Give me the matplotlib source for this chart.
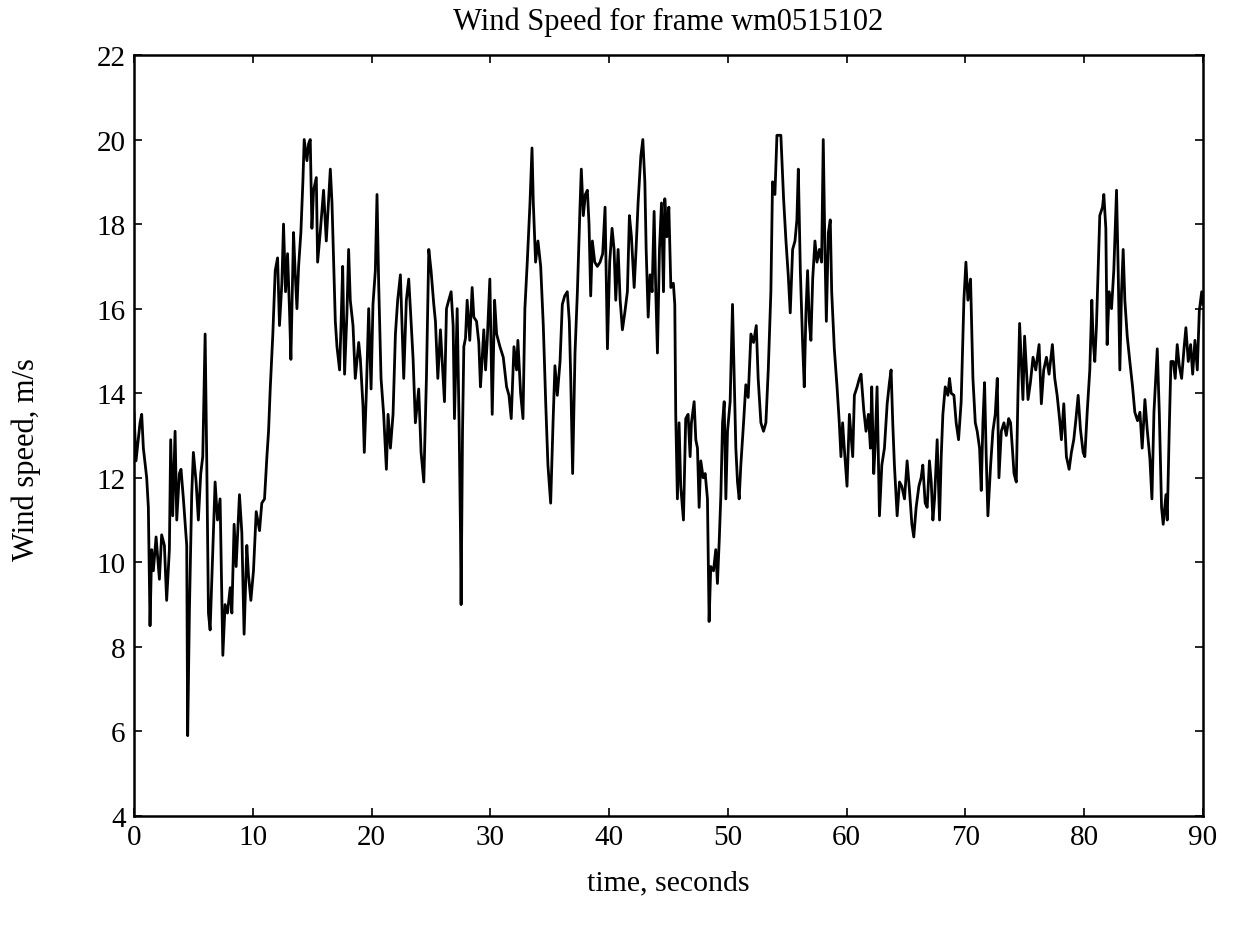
import matplotlib
matplotlib.use("Agg")
import matplotlib.pyplot as plt

time_s = [
    0.00, 0.17, 0.51, 0.65, 0.79, 1.07, 1.21, 1.35, 1.49, 1.63, 1.86, 2.14, 2.33, 2.56, 2.75, 2.98,
    3.09, 3.26, 3.46, 3.60, 3.82, 3.96, 4.16, 4.44, 4.52, 4.67, 4.86, 5.00, 5.23, 5.42, 5.62, 5.79,
    5.99, 6.13, 6.27, 6.41, 6.63, 6.83, 7.03, 7.25, 7.48, 7.67, 7.87, 8.10, 8.24, 8.43, 8.60, 8.88,
    9.08, 9.27, 9.50, 9.64, 9.84, 10.06, 10.29, 10.57, 10.76, 10.99, 11.19, 11.33, 11.47, 11.69,
    11.89, 12.09, 12.25, 12.45, 12.59, 12.76, 12.93, 13.10, 13.21, 13.43, 13.58, 13.72, 13.86,
    14.05, 14.22, 14.33, 14.56, 14.70,
    14.84, 14.98, 15.12, 15.35, 15.46, 15.68, 15.96, 16.19, 16.39, 16.53, 16.67, 16.81, 16.95,
    17.09, 17.31, 17.43, 17.57, 17.73, 17.93, 18.07, 18.21, 18.44, 18.63, 18.92, 19.06, 19.28,
    19.39, 19.56, 19.76, 19.96, 20.12, 20.32, 20.46, 20.60, 20.80, 21.02, 21.25, 21.39, 21.59,
    21.81, 22.01, 22.20, 22.43, 22.57, 22.71, 22.93, 23.13, 23.27, 23.50, 23.69, 23.97, 24.17,
    24.40, 24.62, 24.82, 25.01, 25.24, 25.38, 25.58, 25.80, 26.03, 26.14, 26.31, 26.50, 26.70,
    26.87, 26.98, 27.21, 27.37, 27.49, 27.54, 27.66, 27.77, 27.91, 28.05, 28.27, 28.47, 28.61,
    28.84, 29.03, 29.17, 29.31, 29.45, 29.60, 29.74, 29.96,
    30.16, 30.36, 30.53, 30.81, 31.09, 31.37, 31.57, 31.76, 31.99, 32.21, 32.32, 32.55, 32.75,
    32.91, 33.11, 33.34, 33.51, 33.62, 33.81, 34.01, 34.24, 34.46, 34.66, 34.85, 35.08, 35.28,
    35.44, 35.64, 35.87, 36.06, 36.26, 36.48, 36.65, 36.77, 36.93, 37.13, 37.33, 37.55, 37.66,
    37.83, 38.00, 38.17, 38.31, 38.45, 38.59, 38.79, 39.01, 39.24, 39.46, 39.66, 39.86, 40.05,
    40.25, 40.42, 40.56, 40.76, 40.93, 41.12, 41.32, 41.54, 41.71, 41.88, 42.11, 42.27, 42.44,
    42.67, 42.84, 43.01, 43.12, 43.29, 43.45, 43.62, 43.79, 43.93, 44.07, 44.24, 44.41, 44.58,
    44.69, 44.86, 45.03, 45.20,
    45.41, 45.53, 45.61, 45.75, 45.89, 46.03, 46.26, 46.45, 46.65, 46.82, 46.93, 47.16, 47.30,
    47.44, 47.58, 47.72, 47.92, 48.09, 48.28, 48.42, 48.56, 48.79, 48.98, 49.12, 49.27, 49.41,
    49.55, 49.69, 49.83, 49.97, 50.19, 50.39, 50.53, 50.67, 50.81, 50.95, 51.09, 51.32, 51.51,
    51.71, 51.94, 52.16, 52.39, 52.55, 52.78, 53.00, 53.20, 53.40, 53.62, 53.76, 53.96, 54.13,
    54.46, 54.69, 54.89, 55.08, 55.25, 55.45, 55.65, 55.81, 55.93, 56.10, 56.29, 56.43, 56.57,
    56.71, 56.85, 56.99, 57.14, 57.33, 57.50, 57.70, 57.89, 58.03, 58.17, 58.29, 58.46, 58.62,
    58.74, 58.96, 59.19, 59.38, 59.52, 59.66, 59.80, 60.03, 60.23,
    60.51, 60.65, 60.88, 61.07, 61.21, 61.44, 61.63, 61.83, 62.00, 62.11, 62.28, 62.39, 62.56,
    62.76, 62.96, 63.18, 63.41, 63.60, 63.74, 63.88, 64.02, 64.25, 64.45, 64.64, 64.87, 65.09,
    65.29, 65.49, 65.65, 65.85, 66.08, 66.27, 66.41, 66.61, 66.78, 66.97, 67.12, 67.26, 67.40,
    67.62, 67.82, 67.96, 68.10, 68.30, 68.52, 68.66, 68.80, 69.03, 69.22, 69.42, 69.64, 69.87,
    70.04, 70.21, 70.43, 70.63, 70.83, 70.99, 71.19, 71.33, 71.47, 71.61, 71.75, 71.89, 72.12,
    72.31, 72.51, 72.68, 72.82, 73.02, 73.24, 73.44, 73.64, 73.80, 73.95, 74.09, 74.28, 74.42,
    74.56, 74.70, 74.84, 74.98,
    75.27, 75.47, 75.69, 75.92, 76.20, 76.39, 76.59, 76.82, 77.04, 77.32, 77.52, 77.72, 77.94,
    78.08, 78.28, 78.50, 78.73, 78.92, 79.12, 79.29, 79.49, 79.68, 79.91, 80.05, 80.25, 80.47,
    80.64, 80.75, 80.89, 81.03, 81.17, 81.31, 81.54, 81.65, 81.82, 81.93, 82.10, 82.30, 82.49,
    82.72, 82.86, 83.00, 83.14, 83.28, 83.42, 83.62, 83.84, 84.07, 84.26, 84.49, 84.69, 84.88,
    85.11, 85.30, 85.53, 85.70, 85.87, 86.15, 86.32, 86.51, 86.65, 86.88, 86.99, 87.16, 87.30,
    87.50, 87.66, 87.83, 88.00, 88.20, 88.40, 88.56, 88.76, 88.96, 89.13, 89.32, 89.52, 89.69,
    89.89, 90.00,
]

wind_speed = [
    13.54, 12.4, 13.3, 13.5, 12.7, 12.0, 11.3, 8.5, 10.3, 9.8, 10.6, 9.6, 10.65, 10.4, 9.1, 10.3,
    12.9, 11.1, 13.1, 11.0, 12.1, 12.2, 11.5, 10.4, 5.9, 8.9, 11.6, 12.6, 11.9, 11.0, 12.1, 12.5,
    15.4, 12.3, 8.8, 8.4, 10.2, 11.9, 11.0, 11.5, 7.8, 9.0, 8.8, 9.4, 8.8, 10.9, 9.9, 11.6,
    10.7, 8.3, 10.4, 9.7, 9.1, 9.8, 11.2, 10.75, 11.4, 11.5, 12.5, 13.1, 14.1, 15.4,
    16.9, 17.2, 15.6, 16.6, 18.0, 16.4, 17.3, 15.9, 14.8, 17.8, 16.8, 16.0, 17.0,
    17.8, 19.0, 20.0, 19.5, 19.9,
    20.0, 17.9, 18.8, 19.1, 17.1, 17.8, 18.8, 17.6, 18.6, 19.3, 18.5, 17.1, 15.7,
    15.1, 14.55, 15.6, 17.0, 14.45, 15.9, 17.4, 16.2, 15.6, 14.35, 15.2, 14.8, 13.7,
    12.6, 14.0, 16.0, 14.1, 16.1, 16.9, 18.7, 16.6, 14.35, 13.5, 12.2, 13.5, 12.7,
    13.5, 15.4, 16.2, 16.8, 15.6, 14.35, 16.2, 16.7, 16.0, 14.8, 13.3, 14.1, 12.6,
    11.9, 14.35, 17.4, 16.9, 16.1, 15.7, 14.35, 15.5, 14.35, 13.8, 16.0, 16.2, 16.4,
    15.6, 13.4, 16.0, 13.3, 10.7, 9.0, 13.1, 15.1, 15.3, 16.2, 15.25, 16.5, 15.8,
    15.7, 15.2, 14.15, 14.8, 15.5, 14.55, 15.25, 16.7,
    13.5, 16.2, 15.4, 15.1, 14.85, 14.15, 13.95, 13.4, 15.1, 14.55, 15.25, 14.0, 13.4,
    16.0, 17.1, 18.5, 19.8, 18.5, 17.1, 17.6, 17.0, 15.6, 13.8, 12.3, 11.4, 13.3,
    14.65, 13.95, 14.75, 16.1, 16.3, 16.4, 15.7, 14.35, 12.1, 14.95, 16.4, 18.4, 19.3,
    18.2, 18.7, 18.8, 18.0, 16.3, 17.6, 17.1, 17.0, 17.1, 17.3, 18.4, 15.05, 17.1,
    17.9, 17.4, 16.2, 17.4, 16.2, 15.5, 15.9, 16.4, 18.2, 17.7, 16.5, 17.4, 18.5,
    19.6, 20.0, 19.0, 17.4, 15.8, 16.8, 16.4, 18.3, 16.4, 14.95, 17.4, 18.5, 16.4,
    18.6, 17.7, 18.4, 16.5,
    16.6, 16.1, 13.5, 11.5, 13.3, 11.8, 11.0, 13.4, 13.5, 12.5, 13.3, 13.8, 12.9,
    12.7, 11.3, 12.4, 12.0, 12.1, 11.5, 8.6, 9.9, 9.8, 10.3, 9.5, 10.5, 11.6,
    13.3, 13.8, 11.5, 13.1, 13.8, 16.1, 14.35, 12.7, 11.9, 11.5, 12.3, 13.3, 14.2,
    13.9, 15.4, 15.2, 15.6, 14.35, 13.3, 13.1, 13.3, 14.55, 16.4, 19.0, 18.7, 20.1,
    20.1, 18.6, 17.6, 16.8, 15.9, 17.4, 17.6, 18.1, 19.3, 16.9, 15.2, 14.15, 15.9,
    16.9, 15.7, 15.25, 16.7, 17.6, 17.1, 17.4, 17.1, 20.0, 17.4, 15.7, 17.8, 18.1,
    16.4, 15.05, 14.15, 13.3, 12.5, 13.3, 12.7, 11.8, 13.5,
    12.5, 13.95, 14.15, 14.35, 14.45, 13.6, 13.1, 13.5, 12.7, 14.15, 12.1, 12.7, 14.15,
    11.1, 12.3, 12.7, 13.75, 14.25, 14.55, 13.3, 12.3, 11.1, 11.9, 11.8, 11.5, 12.4,
    11.7, 10.9, 10.6, 11.3, 11.8, 12.0, 12.3, 11.4, 11.3, 12.4, 11.9, 11.0, 11.5,
    12.9, 11.0, 12.5, 13.5, 14.15, 13.95, 14.35, 14.0, 13.95, 13.3, 12.9, 13.8, 16.2,
    17.1, 16.2, 16.7, 14.35, 13.3, 13.1, 12.7, 11.7, 13.3, 14.25, 12.5, 11.1, 12.3,
    13.1, 13.5, 14.35, 12.0, 13.1, 13.3, 13.0, 13.4, 13.3, 12.7, 12.1, 11.9, 13.95,
    15.65, 14.75, 13.85, 15.35,
    13.85, 14.25, 14.85, 14.55, 15.15, 13.75, 14.55, 14.85, 14.45, 15.15, 14.35, 13.95, 13.35,
    12.9, 13.75, 12.5, 12.2, 12.6, 12.9, 13.35, 13.95, 13.15, 12.6, 12.5, 13.55, 14.55,
    16.2, 15.25, 14.75, 15.6, 16.9, 18.2, 18.4, 18.7, 17.9, 15.15, 16.4, 16.0, 16.9,
    18.8, 16.9, 14.55, 16.4, 17.4, 16.2, 15.35, 14.75, 14.15, 13.55, 13.35, 13.55, 12.7,
    13.85, 13.15, 12.45, 11.5, 13.55, 15.05, 13.55, 11.3, 10.9, 11.6, 11.0, 13.15, 14.75,
    14.75, 14.35, 15.15, 14.65, 14.35, 15.05, 15.55, 14.75, 15.15, 14.45, 15.25, 14.55, 15.95,
    16.4, 16.1,
]

x_ticks = [0, 10, 20, 30, 40, 50, 60, 70, 80, 90]
y_ticks = [4, 6, 8, 10, 12, 14, 16, 18, 20, 22]

plt.rcParams['font.family'] = ['Liberation Serif', 'DejaVu Serif']

fig = plt.figure(figsize=(12.36, 9.28), dpi=100)
ax = fig.add_axes([0.1084, 0.1196, 0.8649, 0.8201])
ax.plot(time_s, wind_speed, color='black', linewidth=2.0)

ax.set_xlim(0, 90)
ax.set_ylim(4, 22)
ax.set_xticks(x_ticks)
ax.set_yticks(y_ticks)
ax.tick_params(direction='in', length=6, width=1.2, top=True, right=True,
               labelsize=21, pad=6)
for s in ax.spines.values():
    s.set_linewidth(1.8)

ax.set_title('Wind Speed for frame wm0515102', fontsize=22, pad=19)
ax.set_xlabel('time, seconds', fontsize=21.5, labelpad=14)
ax.set_ylabel('Wind speed, m/s', fontsize=22)
ax.yaxis.set_label_coords(-0.087, 0.47)

fig.savefig('out.png', dpi=100)
